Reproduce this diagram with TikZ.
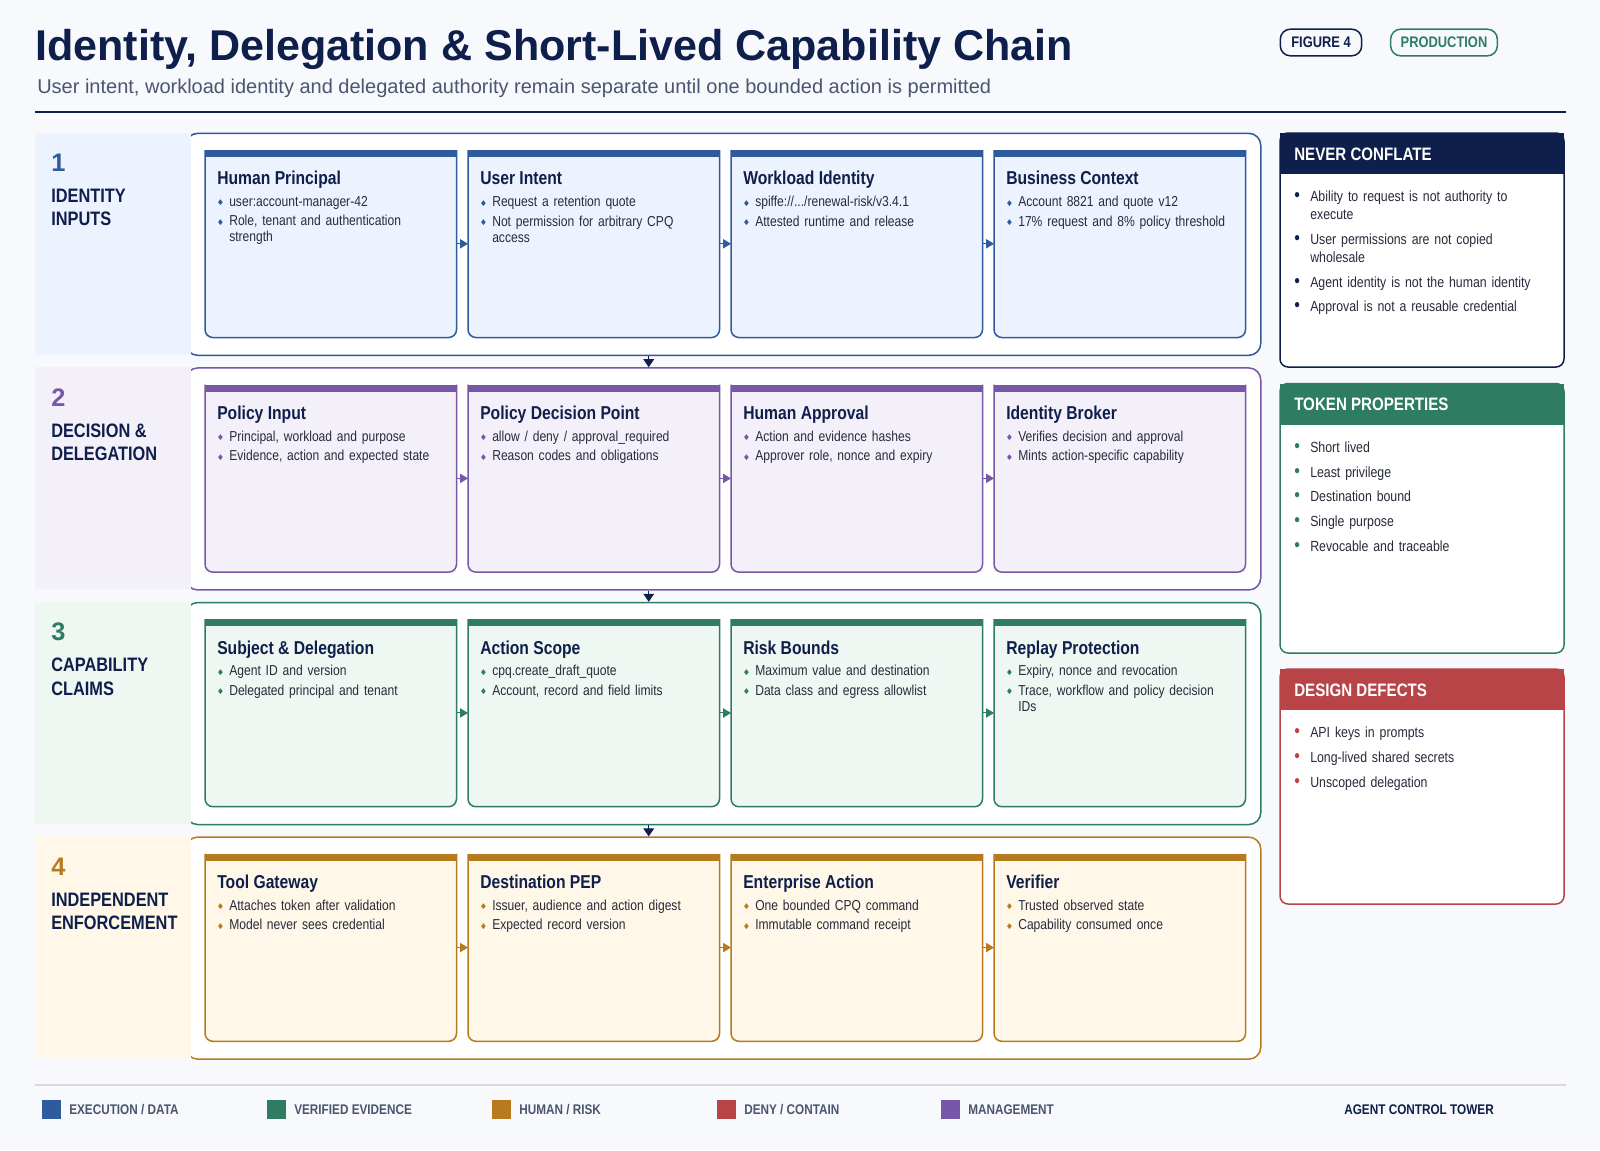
\documentclass[tikz,border=0pt]{standalone}
\usepackage{amssymb}
\usepackage{fontspec}
\setmainfont{Liberation Sans}
\newfontfamily\narrow{Liberation Sans}[FakeStretch=0.84]
\usetikzlibrary{arrows.meta}
\definecolor{navy}{HTML}{0F1F4B}
\definecolor{ink}{HTML}{262B3A}
\definecolor{bgpage}{HTML}{F7F9FC}
\definecolor{cblue}{HTML}{2F5A9E}
\definecolor{cgreen}{HTML}{2E7D62}
\definecolor{corange}{HTML}{B87A1E}
\definecolor{cred}{HTML}{B84448}
\definecolor{cpurple}{HTML}{7657A8}
\definecolor{fblue}{HTML}{EDF3FE}
\definecolor{fpurple}{HTML}{F4F0FA}
\definecolor{fgreen}{HTML}{EEF7F2}
\definecolor{forange}{HTML}{FFF7E8}
\definecolor{legendgray}{HTML}{4A5570}
\colorlet{bcol}{cblue}

\tikzset{
  card/.style={anchor=north west, inner sep=0, minimum width=188.25pt, minimum height=140.25pt},
  ctitle/.style={anchor=north west, inner sep=0, text=navy, font=\narrow\bfseries\fontsize{14}{16}\selectfont},
  cbody/.style={anchor=north west, inner sep=0, text width=170pt, align=left, text=ink,
    font=\narrow\fontsize{10.8}{12}\selectfont},
  pbody/.style={anchor=north west, inner sep=0, text width=182pt, align=left, text=ink,
    font=\narrow\fontsize{11}{13.5}\selectfont},
  rowbox/.style={anchor=north west, inner sep=0, fill=white, line width=1.125pt, rounded corners=9pt,
    minimum width=806.25pt, minimum height=166.5pt},
  rarr/.style={line width=0.75pt, -{Triangle[length=6pt,width=7pt]}},
  darr/.style={navy, line width=0.75pt, -{Triangle[length=6pt,width=8pt]}},
  badge/.style={draw, line width=1.125pt, rounded corners=7.5pt, inner sep=0, minimum height=20pt,
    font=\narrow\bfseries\fontsize{11.5}{12}\selectfont},
  legtext/.style={anchor=west, inner sep=0, text=legendgray, font=\narrow\bfseries\fontsize{10.5}{12}\selectfont},
}

% card: name, x, y, colour, fill, title, bullets
\newcommand\card[7]{%
  \node[card, fill=#5] (#1) at (#2,#3) {};
  \draw[#4, line width=1.125pt, rounded corners=6pt] (#1.north west) -- (#1.south west) -- (#1.south east) -- (#1.north east);
  \fill[#4] (#1.north west) rectangle ++(251,7);
  \node[ctitle] at ([shift={(12,21)}]#1.north west) {#6};
  \node[cbody] at ([shift={(12,46)}]#1.north west) {\colorlet{bcol}{#4}\parskip=2.5pt\hyphenpenalty=10000 #7};
}
\newcommand\bl[1]{\hangindent=9pt\hangafter=1\noindent\makebox[9pt][l]{\raisebox{1.2pt}{\textcolor{bcol}{\tiny$\blacklozenge$}}}#1\par}
\newcommand\pb[1]{\hangindent=12pt\hangafter=1\noindent\makebox[12pt][l]{\textcolor{bcol}{\Large\textbullet}}#1\par}
% panel: name, top, bottom, colour, title, bullets
\newcommand\panel[6]{%
  \fill[white] (1280,#2) rectangle (1564,#3);
  \draw[#4, line width=1.125pt, rounded corners=6pt] (1280,#2) -- (1280,#3) -- (1564,#3) -- (1564,#2) -- cycle;
  \fill[#4] (1280,#2) rectangle (1564,#2+41) coordinate (#1);
  \node[anchor=west, inner sep=0, text=white, font=\narrow\bfseries\fontsize{13.5}{16}\selectfont] at (1294,#2+21) {#5};
  \node[pbody] at (1294,#2+58) {\colorlet{bcol}{#4}\parskip=5pt\hyphenpenalty=10000 #6};
}

\begin{document}
\begin{tikzpicture}[x=0.75pt,y=-0.75pt]
\fill[bgpage] (0,0) rectangle (1600,1150);
\useasboundingbox (0,0) rectangle (1600,1150);

% header
\node[anchor=west, inner sep=0, text=navy, font=\bfseries\fontsize{32.3}{36}\selectfont] (title) at (35,49) {Identity, Delegation \& Short-Lived Capability Chain};
\node[anchor=west, inner sep=0, text=legendgray, font=\fontsize{15}{16}\selectfont] (subtitle) at (37,88) {User intent, workload identity and delegated authority remain separate until one bounded action is permitted};
\node[badge, navy, text=navy, minimum width=61pt] (fig) at (1321,42.5) {FIGURE 4};
\node[badge, cgreen, text=cgreen, minimum width=80pt] (prod) at (1444,42.5) {PRODUCTION};
\draw[navy, line width=1.9pt] (35,112) -- (1566,112);

% rows
\foreach \i/\col/\fil/\num/\la/\lb in {1/cblue/fblue/1/IDENTITY/INPUTS,
    2/cpurple/fpurple/2/DECISION \&/DELEGATION,
    3/cgreen/fgreen/3/CAPABILITY/CLAIMS,
    4/corange/forange/4/INDEPENDENT/ENFORCEMENT}{
  \pgfmathsetmacro\yy{132.6+234.6*(\i-1)}
  \node[rowbox, draw=\col] (r\i) at (185,\yy) {};
  \fill[\fil] (35,\yy) rectangle (191,\yy+222);
  \node[anchor=west, inner sep=0, text=\col, font=\bfseries\fontsize{19}{22}\selectfont] at (51,\yy+30) {\num};
  \node[anchor=north west, inner sep=0, text=navy, align=left, font=\narrow\bfseries\fontsize{14.6}{17.5}\selectfont] at (51,\yy+56) {\la\\\lb};
}

\card{c11}{205}{150}{cblue}{fblue}{Human Principal}{\bl{user:account-manager-42}\bl{Role, tenant and authentication strength}}
\card{c12}{468}{150}{cblue}{fblue}{User Intent}{\bl{Request a retention quote}\bl{Not permission for arbitrary CPQ access}}
\card{c13}{731}{150}{cblue}{fblue}{Workload Identity}{\bl{spiffe://.../renewal-risk/v3.4.1}\bl{Attested runtime and release}}
\card{c14}{994}{150}{cblue}{fblue}{Business Context}{\bl{Account 8821 and quote v12}\bl{17\% request and 8\% policy threshold}}

\card{c21}{205}{384.6}{cpurple}{fpurple}{Policy Input}{\bl{Principal, workload and purpose}\bl{Evidence, action and expected state}}
\card{c22}{468}{384.6}{cpurple}{fpurple}{Policy Decision Point}{\bl{allow / deny / approval\_required}\bl{Reason codes and obligations}}
\card{c23}{731}{384.6}{cpurple}{fpurple}{Human Approval}{\bl{Action and evidence hashes}\bl{Approver role, nonce and expiry}}
\card{c24}{994}{384.6}{cpurple}{fpurple}{Identity Broker}{\bl{Verifies decision and approval}\bl{Mints action-specific capability}}

\card{c31}{205}{619.2}{cgreen}{fgreen}{Subject \& Delegation}{\bl{Agent ID and version}\bl{Delegated principal and tenant}}
\card{c32}{468}{619.2}{cgreen}{fgreen}{Action Scope}{\bl{cpq.create\_draft\_quote}\bl{Account, record and field limits}}
\card{c33}{731}{619.2}{cgreen}{fgreen}{Risk Bounds}{\bl{Maximum value and destination}\bl{Data class and egress allowlist}}
\card{c34}{994}{619.2}{cgreen}{fgreen}{Replay Protection}{\bl{Expiry, nonce and revocation}\bl{Trace, workflow and policy decision IDs}}

\card{c41}{205}{853.8}{corange}{forange}{Tool Gateway}{\bl{Attaches token after validation}\bl{Model never sees credential}}
\card{c42}{468}{853.8}{corange}{forange}{Destination PEP}{\bl{Issuer, audience and action digest}\bl{Expected record version}}
\card{c43}{731}{853.8}{corange}{forange}{Enterprise Action}{\bl{One bounded CPQ command}\bl{Immutable command receipt}}
\card{c44}{994}{853.8}{corange}{forange}{Verifier}{\bl{Trusted observed state}\bl{Capability consumed once}}

% connectors
\foreach \i/\col in {1/cblue,2/cpurple,3/cgreen,4/corange}{
  \foreach \j/\k in {1/2,2/3,3/4}{
    \draw[rarr, \col] (c\i\j.east) -- (c\i\k.west);
  }
}
\foreach \i/\k in {1/2,2/3,3/4}{
  \draw[darr] ([xshift=-55.9pt]r\i.south) -- ([xshift=-55.9pt]r\k.north);
}

% side panels
\panel{p1}{133}{367}{navy}{NEVER CONFLATE}{\pb{Ability to request is not authority to execute}\pb{User permissions are not copied wholesale}\pb{Agent identity is not the human identity}\pb{Approval is not a reusable credential}}
\panel{p2}{383.5}{653}{cgreen}{TOKEN PROPERTIES}{\pb{Short lived}\pb{Least privilege}\pb{Destination bound}\pb{Single purpose}\pb{Revocable and traceable}}
\panel{p3}{669}{904}{cred}{DESIGN DEFECTS}{\pb{API keys in prompts}\pb{Long-lived shared secrets}\pb{Unscoped delegation}}

% footer
\draw[black!15, line width=1.5pt] (35,1085) -- (1566,1085);
\foreach \x/\col/\txt in {42/cblue/{EXECUTION / DATA}, 267/cgreen/{VERIFIED EVIDENCE}, 492/corange/{HUMAN / RISK},
    717/cred/{DENY / CONTAIN}, 941/cpurple/{MANAGEMENT}}{
  \fill[\col] (\x,1100) rectangle ++(19,19);
  \node[legtext] at (\x+27,1109.5) {\txt};
}
\node[anchor=east, inner sep=0, text=navy, font=\narrow\bfseries\fontsize{10.5}{12}\selectfont] (brand) at (1494,1109.5) {AGENT CONTROL TOWER};
\end{tikzpicture}
\end{document}
